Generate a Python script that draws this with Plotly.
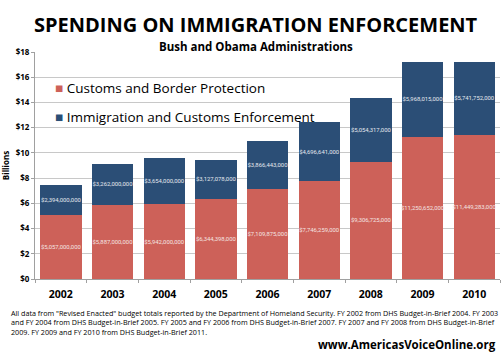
import plotly.graph_objects as go

years = ["2002", "2003", "2004", "2005", "2006", "2007", "2008", "2009", "2010"]
cbp = [5057000000, 5887000000, 5942000000, 6344398000, 7109875000,
       7746259000, 9306725000, 11250652000, 11449283000]
ice = [2394000000, 3262000000, 3654000000, 3127078000, 3866443000,
       4696641000, 5054317000, 5968015000, 5741752000]
tick_vals = [0, 2, 4, 6, 8, 10, 12, 14, 16, 18]
tick_text = ["$" + str(v) for v in tick_vals]
series_names = ["Customs and Border Protection", "Immigration and Customs Enforcement"]

RED = "#CD6159"
BLUE = "#2B4E76"
FONT = "Open Sans"
BARFONT = "Roboto"

fig = go.Figure()
fig.add_trace(go.Bar(
    x=years, y=[v / 1e9 for v in cbp], name=series_names[0],
    marker=dict(color=RED, line=dict(width=0)),
    text=["${:,}".format(v) for v in cbp], textposition="inside",
    insidetextanchor="middle", textangle=0, constraintext="none",
    textfont=dict(color="#F4E4E2", size=5.9, family=BARFONT),
    hoverinfo="skip"))
fig.add_trace(go.Bar(
    x=years, y=[v / 1e9 for v in ice], name=series_names[1],
    marker=dict(color=BLUE, line=dict(width=0)),
    text=["${:,}".format(v) for v in ice], textposition="inside",
    insidetextanchor="middle", textangle=0, constraintext="none",
    textfont=dict(color="#E4E8EE", size=5.9, family=BARFONT),
    hoverinfo="skip"))

fig.update_layout(
    width=504, height=353,
    margin=dict(l=32, r=4, t=52, b=74),
    barmode="stack", bargap=0.2,
    plot_bgcolor="white", paper_bgcolor="white",
    font=dict(family=FONT, color="black"),
    showlegend=False,
    xaxis=dict(showline=True, linecolor="#A0A0A0", ticks="outside",
               tickson="boundaries", ticklen=3, tickcolor="#A0A0A0",
               ticklabelstandoff=5,
               tickfont=dict(size=10.5, family=FONT, color="black", weight="bold"),
               showgrid=False),
    yaxis=dict(range=[0, 18], tickvals=tick_vals, ticktext=tick_text,
               showline=True, linecolor="#A0A0A0", ticks="outside", ticklen=3,
               tickcolor="#A0A0A0", gridcolor="#C8C8C8", gridwidth=1,
               tickfont=dict(size=8, family=FONT, color="black", weight="bold"),
               title=dict(text="Billions", standoff=6,
                          font=dict(size=8, family=FONT, weight="bold"))),
)

# legend drawn as text with coloured square glyphs
for i, (nm, col) in enumerate(zip(series_names, [RED, BLUE])):
    fig.add_annotation(text='<span style="color:%s">■</span> %s' % (col, nm),
                       xref="paper", yref="paper", x=0.038, y=1.0,
                       yshift=-36 - 29 * i, xanchor="left", yanchor="middle",
                       showarrow=False,
                       font=dict(size=13.5, family=FONT, color="black"))

fig.add_annotation(text="<b>SPENDING ON IMMIGRATION ENFORCEMENT</b>",
                   xref="paper", yref="paper", x=0.475, y=1.0, yshift=28,
                   xanchor="center", yanchor="middle", showarrow=False,
                   font=dict(size=20, family=FONT, color="black"))
fig.add_annotation(text="<b>Bush and Obama Administrations</b>",
                   xref="paper", yref="paper", x=0.475, y=1.0, yshift=6,
                   xanchor="center", yanchor="middle", showarrow=False,
                   font=dict(size=11.5, family=FONT, color="black"))

foot = ("All data from \"Revised Enacted\" budget totals reported by the Department of Homeland Security. FY 2002 from DHS Budget-in-Brief 2004. FY 2003<br>"
        "and FY 2004 from DHS Budget-in-Brief 2005. FY 2005 and FY 2006 from DHS Budget-in-Brief 2007. FY 2007 and FY 2008 from DHS Budget-in-Brief<br>"
        "2009. FY 2009 and FY 2010 from DHS Budget-in-Brief 2011.")
fig.add_annotation(text=foot, xref="paper", yref="paper", x=-0.055, y=0,
                   yshift=-27, xanchor="left", yanchor="top", align="left",
                   showarrow=False, font=dict(size=7.2, family=FONT, color="black"))
fig.add_annotation(text="<b>www.AmericasVoiceOnline.org</b>", xref="paper",
                   yref="paper", x=0.995, y=0, yshift=-65, xanchor="right",
                   yanchor="middle", showarrow=False,
                   font=dict(size=11.5, family=FONT, color="black"))

fig.write_html("out.html")
